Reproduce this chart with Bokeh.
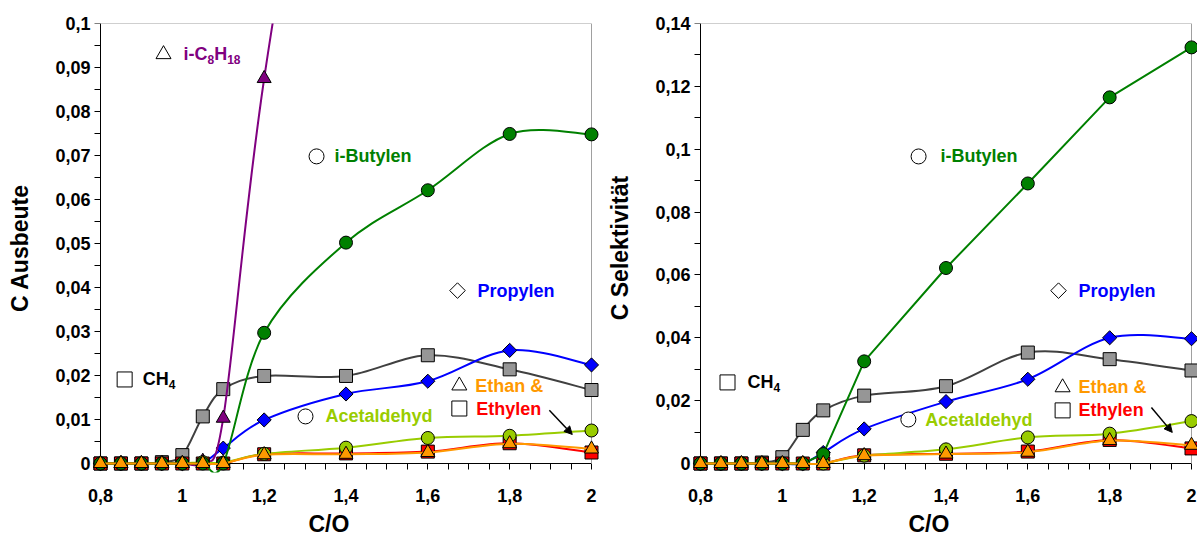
import numpy as np
from bokeh.plotting import figure
from bokeh.layouts import row
from bokeh.models import (Range1d, FixedTicker, LinearAxis, Label, Arrow, NormalHead,
                          ColumnDataSource, Title)
from bokeh.embed import file_html
from bokeh.resources import INLINE

# ---------------- data ----------------
co = [0.8, 0.85, 0.9, 0.95, 1.0, 1.05, 1.1, 1.2, 1.4, 1.6, 1.8, 2.0]

# C Ausbeute (left)
aus_ch4 = [0, 0, 0, 0.0003, 0.0019, 0.0107, 0.0169, 0.0199, 0.0199, 0.0246, 0.0214, 0.0167]
aus_propylen = [0, 0, 0, 0, 0, 0.0002, 0.0035, 0.0099, 0.0158, 0.0187, 0.0257, 0.0224]
aus_ibutylen = [0, 0, 0, 0, 0, 0, 0, 0.0297, 0.0502, 0.0621, 0.0749, 0.0748]
co_ic8 = [0.8, 0.85, 0.9, 0.95, 1.0, 1.05, 1.1, 1.2, 1.4]
aus_ic8h18 = [0, 0, 0, 0, 0, 0.0005, 0.0103, 0.0875, 0.2]
aus_acetaldehyd = [0, 0, 0, 0, 0, 0.0003, 0.0002, 0.0022, 0.0036, 0.0058, 0.0063, 0.0075]
aus_ethan = [0, 0, 0, 0, 0, 0, 0, 0.0020, 0.0021, 0.0025, 0.0045, 0.0033]
aus_ethylen = [0, 0, 0, 0, 0, 0, 0, 0.0021, 0.0023, 0.0027, 0.0046, 0.0025]

# C Selektivitaet (right)
sel_ch4 = [0, 0, 0, 0.0003, 0.0020, 0.0107, 0.0169, 0.0216, 0.0246, 0.0353, 0.0332, 0.0296]
sel_propylen = [0, 0, 0, 0, 0, 0, 0.0035, 0.0110, 0.0197, 0.0268, 0.0400, 0.0397]
sel_ibutylen = [0, 0, 0, 0, 0, 0, 0.0030, 0.0325, 0.0622, 0.0891, 0.1165, 0.1324]
sel_acetaldehyd = [0, 0, 0, 0, 0, 0, 0, 0.0025, 0.0045, 0.0083, 0.0095, 0.0135]
sel_ethan = [0, 0, 0, 0, 0, 0, 0, 0.0025, 0.0030, 0.0036, 0.0073, 0.0058]
sel_ethylen = [0, 0, 0, 0, 0, 0, 0, 0.0026, 0.0031, 0.0038, 0.0075, 0.0048]

x_ticks = [0.8, 1.0, 1.2, 1.4, 1.6, 1.8, 2.0]
x_tick_labels = ["0,8", "1", "1,2", "1,4", "1,6", "1,8", "2"]
left_y_ticks = [0, 0.01, 0.02, 0.03, 0.04, 0.05, 0.06, 0.07, 0.08, 0.09, 0.1]
left_y_labels = ["0", "0,01", "0,02", "0,03", "0,04", "0,05", "0,06", "0,07", "0,08", "0,09", "0,1"]
right_y_ticks = [0, 0.02, 0.04, 0.06, 0.08, 0.1, 0.12, 0.14]
right_y_labels = ["0", "0,02", "0,04", "0,06", "0,08", "0,1", "0,12", "0,14"]

# ---------------- style ----------------
FONT = "Liberation Sans"
C_CH4_FILL, C_CH4_LINE = "#969696", "#404040"
C_PROP = "#0000FF"
C_IBUT = "#008000"
C_IC8 = "#800080"
C_ACET = "#99CC00"
C_ETHAN = "#FF9900"
C_ETHYL = "#FF0000"

X0, X1 = 0.8, 2.0
FRAME_W, FRAME_H = 491, 440
PAD_L, PAD_B = 9, 9
BORDER_L, BORDER_T = 91, 23
TICK = 6


def js_key(v):
    s = repr(float(v))
    return s[:-2] if s.endswith(".0") else s


def overrides(ticks, labels):
    d = {}
    for t, l in zip(ticks, labels):
        d[float(t)] = l
        d[js_key(t)] = l
    return d


def bez(xs, ys):
    n = len(xs)
    d = dict(x0=[], y0=[], x1=[], y1=[], cx0=[], cy0=[], cx1=[], cy1=[])
    for i in range(n - 1):
        a = max(i - 1, 0)
        b = min(i + 2, n - 1)
        d["x0"].append(xs[i]); d["y0"].append(ys[i])
        d["x1"].append(xs[i + 1]); d["y1"].append(ys[i + 1])
        d["cx0"].append(xs[i] + (xs[i + 1] - xs[a]) / 6.0)
        d["cy0"].append(ys[i] + (ys[i + 1] - ys[a]) / 6.0)
        d["cx1"].append(xs[i + 1] - (xs[b] - xs[i]) / 6.0)
        d["cy1"].append(ys[i + 1] - (ys[b] - ys[i]) / 6.0)
    return ColumnDataSource(d)


def make_fig(width, pad_r, ymax, yticks, ylabels, ylabel):
    ppx = FRAME_W / (X1 - X0)
    ppy = FRAME_H / ymax
    p = figure(width=width, height=543,
               x_range=Range1d(X0 - PAD_L / ppx, X1 + pad_r / ppx),
               y_range=Range1d(-PAD_B / ppy, ymax),
               x_axis_type=None, y_axis_type=None,
               output_backend="svg", toolbar_location=None,
               min_border_left=BORDER_L, min_border_right=0,
               min_border_top=BORDER_T, min_border_bottom=543 - BORDER_T - FRAME_H - PAD_B)
    p.outline_line_color = None
    p.grid.visible = False
    p.background_fill_color = "white"
    p.border_fill_color = "white"

    minor_x = [round(X0 + 0.05 * i, 3) for i in range(25)]
    step = yticks[1] - yticks[0]
    minor_y = [round(step / 2 * i, 4) for i in range(2 * (len(yticks) - 1) + 1)]

    # labelled axes (frame edge, no rule / ticks)
    xa = LinearAxis(ticker=FixedTicker(ticks=x_ticks), bounds=(X0, X1),
                    major_label_overrides=overrides(x_ticks, x_tick_labels))
    ya = LinearAxis(ticker=FixedTicker(ticks=yticks), bounds=(0, ymax),
                    major_label_overrides=overrides(yticks, ylabels))
    for ax in (xa, ya):
        ax.axis_line_color = None
        ax.major_tick_line_color = None
        ax.minor_tick_line_color = None
        ax.major_tick_out = 0
        ax.major_tick_in = 0
        ax.minor_tick_out = 0
        ax.minor_tick_in = 0
        ax.major_label_text_font = FONT
        ax.major_label_text_font_style = "bold"
        ax.major_label_text_font_size = "18px"
        ax.major_label_text_color = "black"
        ax.axis_label_text_font = FONT
        ax.axis_label_text_font_style = "bold"
        ax.axis_label_text_font_size = "23px"
        ax.axis_label_text_color = "black"
    xa.major_label_standoff = TICK + 19 - PAD_B
    ya.major_label_standoff = TICK + 4 - PAD_L
    ya.axis_label = ylabel
    ya.axis_label_standoff = 19
    p.add_layout(xa, "below")
    p.add_layout(ya, "left")

    # x axis title, shifted left like the original
    p.add_layout(Title(text="C/O", align="left", offset=(328 - 20 - BORDER_L),
                       text_font=FONT, text_font_style="bold", text_font_size="23px",
                       text_color="black", standoff=9), "below")

    # rule + ticks (drawn beneath markers), inward ticks from the opposite side
    xr = LinearAxis(ticker=FixedTicker(ticks=[], minor_ticks=minor_x), bounds=(X0, X1),
                    fixed_location=0)
    yr = LinearAxis(ticker=FixedTicker(ticks=[], minor_ticks=minor_y), bounds=(0, ymax),
                    fixed_location=X0)
    for ax in (xr, yr):
        ax.axis_line_color = "black"
        ax.axis_line_width = 1
        ax.minor_tick_line_color = "black"
        ax.major_tick_out = 0
        ax.minor_tick_out = 0
        ax.major_tick_in = 0
        ax.minor_tick_in = TICK
        ax.major_label_standoff = 0
        ax.level = "underlay"
    p.add_layout(xr, "above")
    p.add_layout(yr, "right")

    # grey top / right border
    top = LinearAxis(ticker=FixedTicker(ticks=[]), bounds=(X0, X1), axis_line_color="#A0A0A0",
                     major_tick_out=0, minor_tick_out=0, major_tick_in=0, minor_tick_in=0,
                     major_label_standoff=0)
    right = LinearAxis(ticker=FixedTicker(ticks=[]), bounds=(0, ymax), fixed_location=X1,
                       axis_line_color="#A0A0A0", major_tick_out=0, minor_tick_out=0,
                       major_tick_in=0, minor_tick_in=0, major_label_standoff=0)
    top.level = "underlay"
    right.level = "underlay"
    p.add_layout(top, "above")
    p.add_layout(right, "right")
    return p


def series(p, xs, ys, line_color, marker, fill, size, smooth=True, angle=0.0):
    if smooth:
        p.bezier(x0="x0", y0="y0", x1="x1", y1="y1", cx0="cx0", cy0="cy0",
                 cx1="cx1", cy1="cy1", source=bez(xs, ys), line_color=line_color,
                 line_width=2, line_cap="round")
    else:
        p.line(xs, ys, line_color=line_color, line_width=2)
    p.scatter(xs, ys, marker=marker, size=size, fill_color=fill,
              line_color="black", line_width=1, angle=angle)


CW = {"i": 0.278, "-": 0.333, "C": 0.722, "H": 0.722, "&": 0.722, " ": 0.278}


def tw(s, size):
    return sum(CW.get(ch, 0.556) for ch in s) * size


def legend_item(p, x, y, marker, text_parts, color, dx=18, angle=0.0, msize=15):
    p.scatter([x], [y], marker=marker, size=msize, fill_color="white",
              line_color="black", line_width=1, angle=angle)
    off = dx
    for txt, sub in text_parts:
        fs = 12 if sub else 18
        p.add_layout(Label(x=x, y=y, x_offset=off, y_offset=-5 if sub else 0,
                           text=txt, text_font=FONT, text_font_style="bold",
                           text_font_size=f"{fs}px", text_color=color,
                           text_baseline="middle", text_align="left"))
        off += tw(txt, fs)


# ---------------- left figure ----------------
pl = make_fig(600, 9, 0.1, left_y_ticks, left_y_labels, "C Ausbeute")
series(pl, co, aus_ch4, C_CH4_LINE, "square", C_CH4_FILL, 13)
series(pl, co, aus_propylen, C_PROP, "square", C_PROP, 10, angle=np.pi / 4)
series(pl, co_ic8, aus_ic8h18, C_IC8, "triangle", C_IC8, 14)
series(pl, co, aus_ethylen, C_ETHYL, "square", C_ETHYL, 13)
series(pl, co, aus_acetaldehyd, C_ACET, "circle", C_ACET, 13)
series(pl, co, aus_ibutylen, C_IBUT, "circle", C_IBUT, 13)
series(pl, co, aus_ethan, C_ETHAN, "triangle", C_ETHAN, 14)

legend_item(pl, 0.954, 0.0930, "triangle", [("i-C", False), ("8", True), ("H", False), ("18", True)], C_IC8, dx=20)
legend_item(pl, 1.328, 0.0698, "circle", [("i-Butylen", False)], C_IBUT, dx=18)
legend_item(pl, 1.6725, 0.0393, "square", [("Propylen", False)], C_PROP, dx=20, angle=np.pi / 4, msize=11)
legend_item(pl, 0.859, 0.0191, "square", [("CH", False), ("4", True)], "black", dx=18)
legend_item(pl, 1.677, 0.0177, "triangle", [("Ethan &", False)], C_ETHAN, dx=16)
legend_item(pl, 1.677, 0.0125, "square", [("Ethylen", False)], C_ETHYL, dx=17)
legend_item(pl, 1.301, 0.0107, "circle", [("Acetaldehyd", False)], C_ACET, dx=20)
pl.add_layout(Arrow(end=NormalHead(size=8, fill_color="black", line_color="black"),
                    x_start=1.897, y_start=0.0121, x_end=1.953, y_end=0.0066,
                    line_color="black", line_width=1.5))

# ---------------- right figure ----------------
pr = make_fig(597, 6, 0.14, right_y_ticks, right_y_labels, "C Selektivität")
series(pr, co, sel_ch4, C_CH4_LINE, "square", C_CH4_FILL, 13)
series(pr, co, sel_propylen, C_PROP, "square", C_PROP, 10, angle=np.pi / 4)
series(pr, co, sel_ethylen, C_ETHYL, "square", C_ETHYL, 13)
series(pr, co, sel_acetaldehyd, C_ACET, "circle", C_ACET, 13)
series(pr, co, sel_ibutylen, C_IBUT, "circle", C_IBUT, 13, smooth=False)
series(pr, co, sel_ethan, C_ETHAN, "triangle", C_ETHAN, 14)

legend_item(pr, 1.333, 0.0977, "circle", [("i-Butylen", False)], C_IBUT, dx=22)
legend_item(pr, 1.675, 0.0550, "square", [("Propylen", False)], C_PROP, dx=20, angle=np.pi / 4, msize=11)
legend_item(pr, 0.866, 0.0258, "square", [("CH", False), ("4", True)], "black", dx=20)
legend_item(pr, 1.308, 0.0140, "circle", [("Acetaldehyd", False)], C_ACET, dx=17)
legend_item(pr, 1.685, 0.0242, "triangle", [("Ethan &", False)], C_ETHAN, dx=16)
legend_item(pr, 1.685, 0.0169, "square", [("Ethylen", False)], C_ETHYL, dx=16)
pr.add_layout(Arrow(end=NormalHead(size=8, fill_color="black", line_color="black"),
                    x_start=1.902, y_start=0.0178, x_end=1.953, y_end=0.0099,
                    line_color="black", line_width=1.5))

layout = row(pl, pr)
open("out.html", "w").write(file_html(layout, INLINE))
